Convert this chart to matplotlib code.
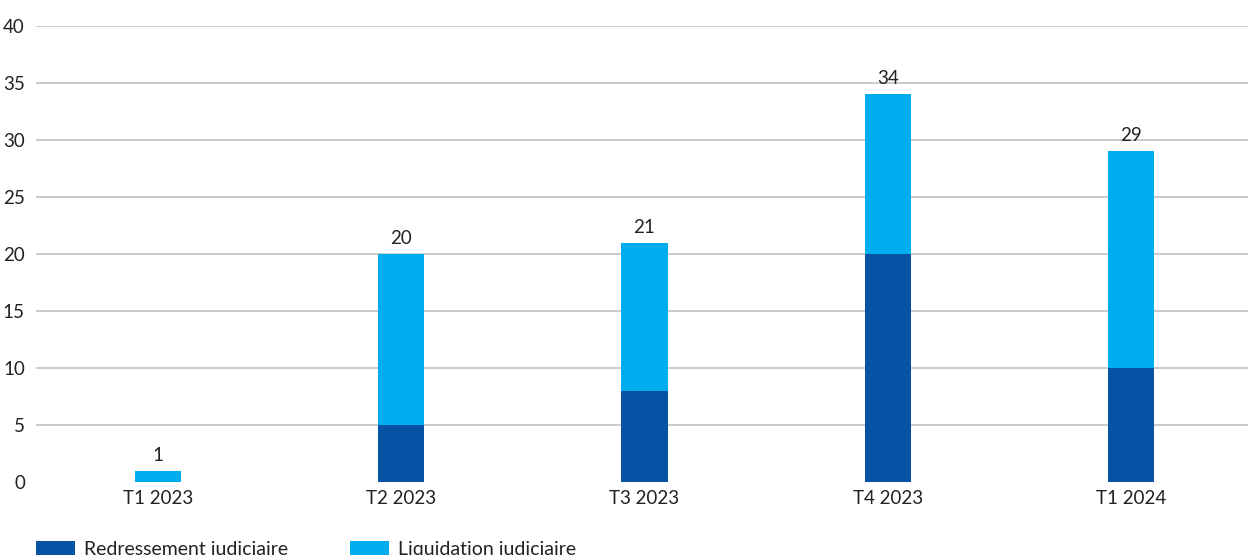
import matplotlib
matplotlib.use("Agg")
import matplotlib.pyplot as plt
import numpy as np

categories = ["T1 2023", "T2 2023", "T3 2023", "T4 2023", "T1 2024"]
redressement = [0, 5, 8, 20, 10]
liquidation = [1, 15, 13, 14, 19]
series_names = ["Redressement judiciaire", "Liquidation judiciaire"]
yticks = [0, 5, 10, 15, 20, 25, 30, 35, 40]

plt.rcParams['font.family'] = ['Lato', 'DejaVu Sans']
dark = "#0652a4"
light = "#00aeef"
txt = "#222222"

W, H = 1248, 555
fig = plt.figure(figsize=(W / 100, H / 100), dpi=100)
ax = fig.add_axes([36 / W, 73 / H, 1 - 36 / W, 456 / H])

x = np.arange(len(categories))
width = 0.19
b1 = ax.bar(x, redressement, width, color=dark, label=series_names[0], zorder=3)
b2 = ax.bar(x, liquidation, width, bottom=redressement, color=light, label=series_names[1], zorder=3)

totals = [r + l for r, l in zip(redressement, liquidation)]
for xi, t in zip(x, totals):
    ax.annotate(str(t), (xi, t), xytext=(0, 5), textcoords="offset points",
                ha="center", va="bottom", fontsize=13.5, color=txt)

ax.set_xlim(-0.5, 4.48)
ax.set_ylim(0, 40)
ax.set_yticks(yticks)
ax.set_xticks(x)
ax.set_xticklabels(categories)
for s in ax.spines.values():
    s.set_visible(False)
for yv in yticks[1:]:
    ax.axhline(yv, color="#c2c2c2", lw=1.2, zorder=1)
ax.tick_params(axis="both", length=0, labelsize=13.5, colors=txt)
ax.tick_params(axis="y", pad=8)
ax.tick_params(axis="x", pad=6)

fig.legend(handles=[b1, b2], loc="upper left", bbox_to_anchor=(28 / W, 1 - 533 / H),
           ncol=2, frameon=False, fontsize=14, handlelength=2.0, handleheight=0.82,
           handletextpad=0.46, columnspacing=3.2, labelcolor=txt, borderaxespad=0)

fig.savefig("out.png", dpi=100)
